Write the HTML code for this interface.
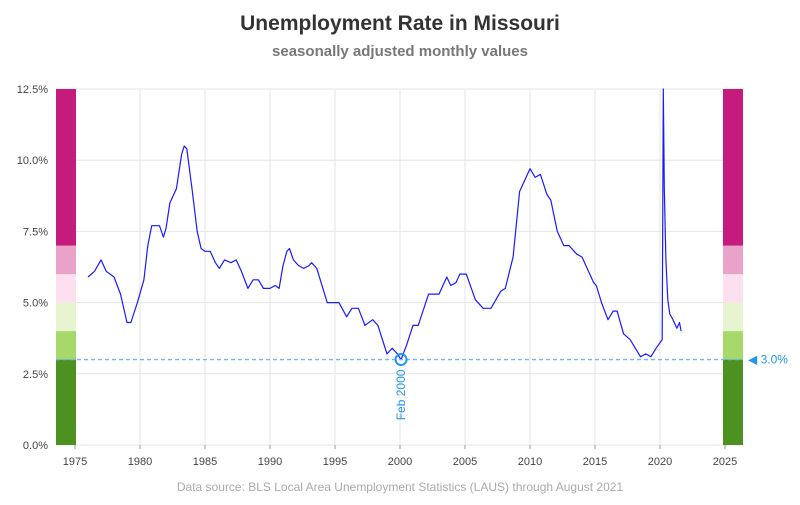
<!DOCTYPE html>
<html><head><meta charset="utf-8"><style>
body{margin:0;background:#fff;font-family:"Liberation Sans",sans-serif}
svg text{font-family:"Liberation Sans",sans-serif}
</style></head><body>
<svg id="c" width="800" height="500">
<text x="400" y="30" text-anchor="middle" font-size="21" font-weight="bold" fill="#333">Unemployment Rate in Missouri</text>
<text x="400" y="56" text-anchor="middle" font-size="15" font-weight="bold" fill="#777">seasonally adjusted monthly values</text>
<text x="400" y="491" text-anchor="middle" font-size="12" fill="#aaa">Data source: BLS Local Area Unemployment Statistics (LAUS) through August 2021</text>
<g id="grid"></g><g id="bands"></g><g id="series"></g><g id="axes"></g><g id="ann"></g>
</svg>
<script>
const dates=[1976.0,1976.5,1977.0,1977.4,1978.0,1978.5,1979.0,1979.3,1979.8,1980.3,1980.6,1980.9,1981.5,1981.8,1982.0,1982.3,1982.8,1983.2,1983.4,1983.6,1984.0,1984.4,1984.7,1985.0,1985.4,1985.8,1986.1,1986.5,1987.0,1987.4,1987.8,1988.3,1988.7,1989.1,1989.5,1990.0,1990.4,1990.7,1991.0,1991.3,1991.5,1991.8,1992.2,1992.6,1993.0,1993.2,1993.6,1994.4,1995.3,1995.9,1996.3,1996.8,1997.3,1997.9,1998.3,1999.0,1999.4,1999.8,2000.08,2000.5,2001.0,2001.4,2002.2,2003.0,2003.6,2003.9,2004.3,2004.6,2005.1,2005.8,2006.4,2007.0,2007.75,2008.1,2008.7,2009.2,2009.6,2010.0,2010.4,2010.8,2011.3,2011.6,2012.1,2012.6,2013.0,2013.6,2014.0,2014.9,2015.1,2015.5,2016.0,2016.4,2016.7,2017.2,2017.7,2018.1,2018.5,2018.9,2019.3,2019.7,2020.17,2020.25,2020.33,2020.45,2020.6,2020.75,2021.0,2021.3,2021.5,2021.62];
const rates=[5.9,6.1,6.5,6.1,5.9,5.3,4.3,4.3,5.0,5.8,7.0,7.7,7.7,7.3,7.6,8.5,9.0,10.2,10.5,10.4,9.0,7.5,6.9,6.8,6.8,6.4,6.2,6.5,6.4,6.5,6.1,5.5,5.8,5.8,5.5,5.5,5.6,5.5,6.3,6.8,6.9,6.5,6.3,6.2,6.3,6.4,6.2,5.0,5.0,4.5,4.8,4.8,4.2,4.4,4.2,3.2,3.4,3.2,3.0,3.5,4.2,4.2,5.3,5.3,5.9,5.6,5.7,6.0,6.0,5.1,4.8,4.8,5.4,5.5,6.6,8.9,9.3,9.7,9.4,9.5,8.8,8.6,7.5,7.0,7.0,6.7,6.6,5.7,5.6,5.0,4.4,4.7,4.7,3.9,3.7,3.4,3.1,3.2,3.1,3.4,3.7,12.6,9.0,6.5,5.1,4.6,4.4,4.1,4.3,4.0];
const yTicks=[0,2.5,5,7.5,10,12.5];
const yTickLabels=["0.0%","2.5%","5.0%","7.5%","10.0%","12.5%"];
const xTicks=[1975,1980,1985,1990,1995,2000,2005,2010,2015,2020,2025];
const bandEdges=[0,3,4,5,6,7,12.5];
const bandColors=["#4d9221","#a6d96a","#e6f5d0","#fde0ef","#e9a3c9","#c51b7d"];
const refValue=3.0, refDate=2000.08, refLabel="Feb 2000";
const ns="http://www.w3.org/2000/svg";
const X=v=>75+(v-1975)*13, Y=v=>445-v*28.48;
function mk(p,t,a){const e=document.createElementNS(ns,t);for(const k in a)e.setAttribute(k,a[k]);p.appendChild(e);return e;}
const G=document.getElementById('grid'),B=document.getElementById('bands'),S=document.getElementById('series'),A=document.getElementById('axes'),N=document.getElementById('ann');
yTicks.forEach((t,i)=>{const l=mk(G,'line',{x1:56,x2:743,y1:Y(t),y2:Y(t),stroke:'#e6e6e6'});


const tx=mk(A,'text',{x:48,y:Y(t)+4,'text-anchor':'end','font-size':11,fill:'#444'});tx.textContent=yTickLabels[i];

});
xTicks.forEach(t=>{const l=mk(G,'line',{x1:X(t),x2:X(t),y1:89,y2:445,stroke:'#e6e6e6'});


mk(A,'line',{x1:X(t),x2:X(t),y1:445,y2:449,stroke:'#999'});
const tx=mk(A,'text',{x:X(t),y:465,'text-anchor':'middle','font-size':11,fill:'#444'});tx.textContent=t;

});
[56,723].forEach(bx=>{for(let i=0;i<bandColors.length;i++){const r=mk(B,'rect',{x:bx,width:20,y:Y(bandEdges[i+1]),height:Y(bandEdges[i])-Y(bandEdges[i+1]),fill:bandColors[i]});

}});
const d=dates.map((t,i)=>(i?'L':'M')+X(t).toFixed(1)+','+Math.max(89,Y(rates[i])).toFixed(1)).join('');
const p=mk(S,'path',{d:d,fill:'none',stroke:'#1a1aff','stroke-width':1.2,'stroke-linejoin':'round'});


const rl=mk(N,'line',{x1:56,x2:743,y1:Y(refValue),y2:Y(refValue),stroke:'#6fb6ff','stroke-width':1.3,'stroke-dasharray':'4,3'});


const c=mk(N,'circle',{cx:X(refDate),cy:Y(refValue),r:5.5,fill:'none',stroke:'#2196f3','stroke-width':2});


const fl=mk(N,'text',{transform:`translate(${X(refDate)+4},${Y(refValue)+10}) rotate(-90)`,'text-anchor':'end','font-size':12,fill:'#2196f3'});fl.textContent=refLabel;


const vl=mk(N,'text',{x:748,y:Y(refValue)+4,'font-size':12,fill:'#2196f3'});vl.textContent='◀ '+refValue.toFixed(1)+'%';


</script>
</body></html>
